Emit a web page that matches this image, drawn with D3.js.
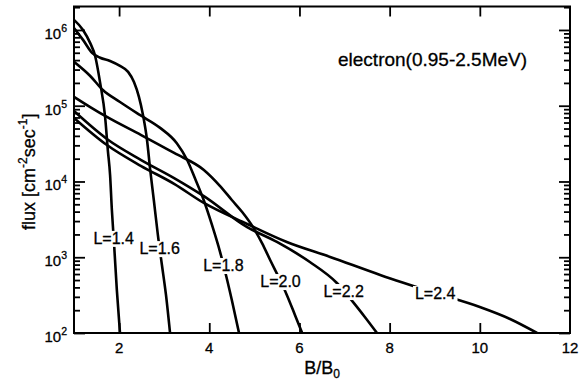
<!DOCTYPE html>
<html><head><meta charset="utf-8">
<script src="https://cdn.jsdelivr.net/npm/d3@7/dist/d3.min.js"></script>
<style>
body{margin:0;background:#fff;}
svg text{font-family:"Liberation Sans",Arial,Helvetica,sans-serif;fill:#000;stroke:#000;stroke-width:0.3px;}
</style></head><body>
<svg id="c" width="586" height="385"></svg>
<script>
// ---- data ----
const xTicks = [2, 4, 6, 8, 10, 12];
const yDecades = [2, 3, 4, 5, 6];
const curveLabels = ["L=1.4", "L=1.6", "L=1.8", "L=2.0", "L=2.2", "L=2.4"];
const labelFlux = [1800, 1320, 790, 485, 358, 337];

const B_L14 = [1.00, 1.20, 1.36, 1.47, 1.58, 1.69, 1.75, 1.80, 1.84, 1.89, 1.95, 2.02];
const F_L14 = [1.36e6, 1.0e6, 6.7e5, 4.5e5, 2.0e5, 7.1e4, 2.6e4, 1.22e4, 4.2e3, 1.45e3, 370, 100];

const B_L16 = [1.00, 1.20, 1.40, 1.58, 1.80, 2.02, 2.20, 2.33, 2.44, 2.53, 2.62, 2.69, 2.77, 2.86, 2.95, 3.04, 3.13];
const F_L16 = [1.06e6, 7.4e5, 5.0e5, 4.3e5, 3.9e5, 3.35e5, 2.8e5, 2.06e5, 1.31e5, 7.55e4, 3.5e4, 1.42e4, 5.7e3, 1.97e3, 790, 318, 100];

const B_L18 = [1.00, 1.36, 1.64, 2.02, 2.46, 2.91, 3.28, 3.51, 3.68, 3.86, 4.06, 4.24, 4.37, 4.50, 4.66];
const F_L18 = [3.8e5, 2.47e5, 1.61e5, 1.12e5, 7.55e4, 5.1e4, 3.2e4, 1.92e4, 1.11e4, 6.05e3, 2.67e3, 1.17e3, 584, 273, 100];

const B_L20 = [1.00, 1.36, 1.73, 2.49, 3.22, 3.88, 4.24, 4.50, 4.73, 4.97, 5.17, 5.35, 5.57, 5.72, 5.90, 6.06];
const F_L20 = [1.31e5, 9.6e4, 7.1e4, 4.1e4, 2.38e4, 1.42e4, 8.7e3, 5.7e3, 3.95e3, 2.5e3, 1.54e3, 920, 500, 318, 173, 100];

const B_L22 = [1.00, 1.73, 2.49, 3.22, 3.88, 4.84, 5.50, 6.23, 6.83, 7.19, 7.45, 7.72];
const F_L22 = [8.5e4, 3.64e4, 1.92e4, 1.11e4, 6.4e3, 2.5e3, 1.59e3, 865, 457, 256, 163, 100];

const B_L24 = [1.00, 1.73, 2.49, 3.22, 3.88, 4.84, 5.72, 6.68, 7.79, 9.01, 10.00, 10.67, 11.27];
const F_L24 = [6.9e4, 3.03e4, 1.6e4, 9.3e3, 5.2e3, 2.75e3, 1.59e3, 1.01e3, 584, 337, 220, 153, 100];

const seriesB = [B_L14, B_L16, B_L18, B_L20, B_L22, B_L24];
const seriesF = [F_L14, F_L16, F_L18, F_L20, F_L22, F_L24];

// ---- layout ----
const m = {l: 74, r: 570, t: 6.5, b: 333};
const x = d3.scaleLinear().domain([1, 12]).range([m.l, m.r]);
const y = d3.scaleLog().domain([100, 2.04e6]).range([m.b, m.t]);
const svg = d3.select("#c");

svg.append("clipPath").attr("id", "clip").append("rect")
  .attr("x", m.l).attr("y", m.t).attr("width", m.r - m.l).attr("height", m.b - m.t);

const line = d3.line().x(d => x(d[0])).y(d => y(d[1])).curve(d3.curveMonotoneX);

const gLines = svg.append("g").attr("clip-path", "url(#clip)");
seriesB.forEach((bs, i) => {
  gLines.append("path").datum(d3.zip(bs, seriesF[i])).attr("d", line)
    .attr("fill", "none").attr("stroke", "#000").attr("stroke-width", 2.6)
    .attr("stroke-linejoin", "round");
});

// ---- axes (ticks inward) ----
const topVal = y.domain()[1];
const minor = [];
yDecades.forEach(e => { for (let k = 2; k <= 9; k++) { const v = k * Math.pow(10, e); if (v < topVal) minor.push(v); } });
const majors = yDecades.map(e => Math.pow(10, e));

function styleAxis(g) {
  g.select(".domain").remove();
  g.selectAll(".tick line").attr("stroke", "#000").attr("stroke-width", 1.8);
  g.selectAll(".tick text").remove();
}
const xt = xTicks.filter(v => v < 12);
svg.append("g").attr("transform", `translate(0,${m.b})`)
  .call(d3.axisBottom(x).tickValues(xt).tickSize(-10).tickFormat("")).call(styleAxis);
svg.append("g").attr("transform", `translate(0,${m.t})`)
  .call(d3.axisTop(x).tickValues(xt).tickSize(-10).tickFormat("")).call(styleAxis);
svg.append("g").attr("transform", `translate(${m.l},0)`)
  .call(d3.axisLeft(y).tickValues(majors).tickSize(-11).tickFormat("")).call(styleAxis);
svg.append("g").attr("transform", `translate(${m.l},0)`)
  .call(d3.axisLeft(y).tickValues(minor).tickSize(-6).tickFormat("")).call(styleAxis);
svg.append("g").attr("transform", `translate(${m.r},0)`)
  .call(d3.axisRight(y).tickValues(majors).tickSize(-11).tickFormat("")).call(styleAxis);
svg.append("g").attr("transform", `translate(${m.r},0)`)
  .call(d3.axisRight(y).tickValues(minor).tickSize(-6).tickFormat("")).call(styleAxis);

// frame
svg.append("rect").attr("x", m.l).attr("y", m.t).attr("width", m.r - m.l).attr("height", m.b - m.t)
  .attr("fill", "none").attr("stroke", "#000").attr("stroke-width", 2);

// x tick labels
svg.append("g").selectAll("text").data(xTicks).join("text")
  .attr("x", d => x(d)).attr("y", 353).attr("text-anchor", "middle")
  .attr("font-size", 15).text(d => d);

// y tick labels
const yl = svg.append("g").selectAll("text").data(yDecades).join("text")
  .attr("x", 67).attr("y", d => y(Math.pow(10, d)) + 9).attr("text-anchor", "end").attr("font-size", 15);
yl.append("tspan").text("10");
yl.append("tspan").attr("font-size", 10.5).attr("dy", -7).text(d => d);

// axis titles
const xtTitle = svg.append("text").attr("x", (m.l + m.r) / 2).attr("y", 374)
  .attr("text-anchor", "middle").attr("font-size", 18);
xtTitle.append("tspan").text("B/B");
xtTitle.append("tspan").attr("font-size", 12).attr("dy", 4).text("0");

const ytTitle = svg.append("text").attr("transform", `translate(35,${(m.t + m.b) / 2 + 2}) rotate(-90)`)
  .attr("text-anchor", "middle").attr("font-size", 18);
ytTitle.append("tspan").text("flux  [cm");
ytTitle.append("tspan").attr("font-size", 12).attr("dy", -8).text("-2");
ytTitle.append("tspan").attr("dy", 8).text("sec");
ytTitle.append("tspan").attr("font-size", 12).attr("dy", -8).text("-1");
ytTitle.append("tspan").attr("dy", 8).text("]");

svg.append("text").attr("x", 338).attr("y", 66).attr("font-size", 19).text("electron(0.95-2.5MeV)");

// curve labels, centred on each curve at the given flux
function bAtFlux(bs, fs, f) {
  const lf = Math.log10(f);
  for (let i = 0; i < fs.length - 1; i++) {
    const a = Math.log10(fs[i]), b = Math.log10(fs[i + 1]);
    if ((a - lf) * (b - lf) <= 0) { const t = (a - lf) / (a - b); return bs[i] + t * (bs[i + 1] - bs[i]); }
  }
  return bs[bs.length - 1];
}
const gLab = svg.append("g");
curveLabels.forEach((lab, i) => {
  const cx = x(bAtFlux(seriesB[i], seriesF[i], labelFlux[i]));
  const cy = y(labelFlux[i]);
  const g = gLab.append("g");
  const t = g.append("text").attr("x", cx).attr("y", cy + 6).attr("text-anchor", "middle")
    .attr("font-size", 16).text(lab);
  const bb = t.node().getBBox();
  g.insert("rect", "text").attr("x", bb.x - 2).attr("y", bb.y + 1).attr("width", bb.width + 4)
    .attr("height", bb.height - 1).attr("fill", "#fff");
});
</script>
</body></html>
